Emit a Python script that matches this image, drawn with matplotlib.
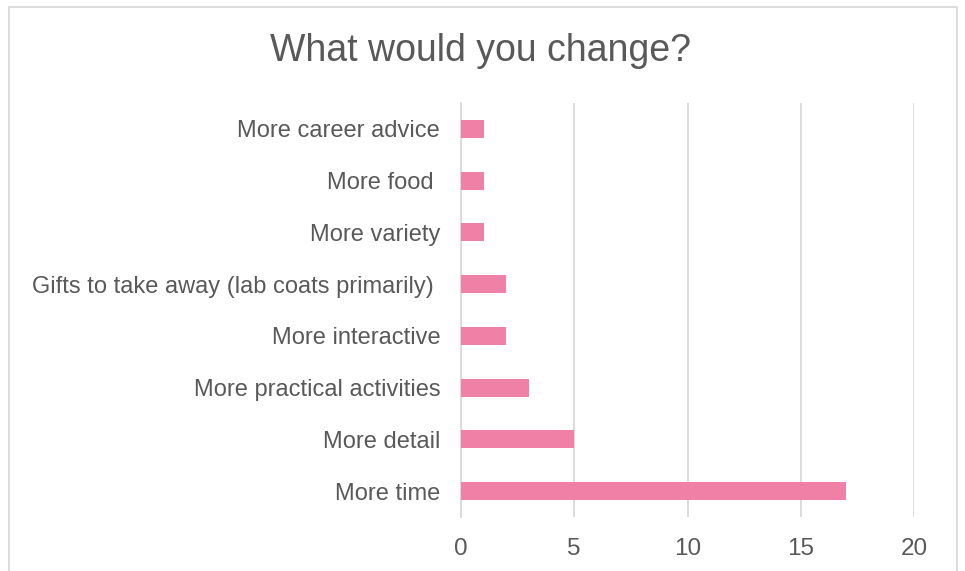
import matplotlib
matplotlib.use('Agg')
import matplotlib.pyplot as plt
from matplotlib.patches import Rectangle

plt.rcParams['font.family'] = ['Liberation Sans', 'DejaVu Sans']

# responses, listed from bottom to top
labels = ['More time', 'More detail', 'More practical activities', 'More interactive',
          'Gifts to take away (lab coats primarily) ', 'More variety', 'More food ',
          'More career advice']
counts = [17, 5, 3, 2, 2, 1, 1, 1]
xticks = [0, 5, 10, 15, 20]

grey = '#595959'
line = '#D9D9D9'
pink = '#F080A6'

fig = plt.figure(figsize=(9.65, 5.71), dpi=100)
ax = fig.add_axes([461/965, 1 - 517/571, 453/965, 414/571])

ypos = range(len(labels))
ax.barh(ypos, counts, height=0.35, color=pink, zorder=3)

ax.set_xlim(0, 20)
ax.set_ylim(-0.5, len(labels) - 0.5)
ax.set_xticks(xticks)
ax.set_yticks(list(ypos))
ax.set_yticklabels(labels)
ax.xaxis.grid(True, color=line, linewidth=1.3, zorder=0)
ax.tick_params(axis='both', length=0, labelcolor=grey)
ax.tick_params(axis='y', pad=15, labelsize=17)
ax.tick_params(axis='x', pad=15, labelsize=17.5)
for side in ['top', 'right', 'bottom']:
    ax.spines[side].set_visible(False)
ax.spines['left'].set_color(line)
ax.spines['left'].set_linewidth(1.3)

fig.text(481/965, 1 - 51/571, 'What would you change?', ha='center', va='center',
         fontsize=27, color=grey)

# chart border
fig.patches.append(Rectangle((8.5/965, -0.05), 948.5/965, 1.05 - 7.5/571,
                             transform=fig.transFigure, fill=False,
                             edgecolor=line, linewidth=1.3))

fig.savefig('out.png', dpi=100)
